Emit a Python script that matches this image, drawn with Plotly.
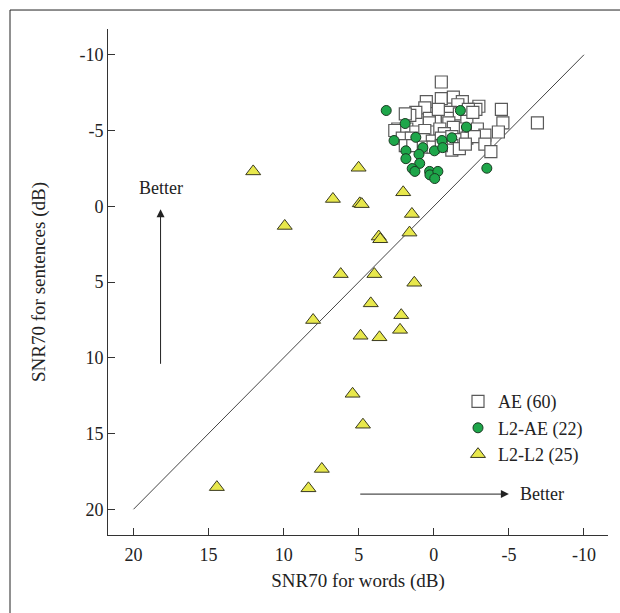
import plotly.graph_objects as go

# AE (60) - open squares
ae_x = [-0.5, -0.5, -1.3, 0.5, -1.9, -1.6, -3.0, -2.8, -4.5, 0.6,
        1.2, 1.6, -0.9, -1.1, -1.7, -2.3, -0.9, 0.3, 1.9, -4.6,
        -6.9, -1.0, 0.3, -2.2, 2.4, 2.6, 1.8, 1.2, 0.2, -0.4,
        -1.7, -2.3, -2.9, -1.3, 0.6, -0.7, -3.4, -4.3, 2.1, 1.5,
        0.7, 0.1, -0.5, -1.2, -1.7, -2.2, -2.7, -3.4, 1.9, 1.4,
        0.7, 0.05, -1.2, -1.2, -1.7, -0.5, -2.1, -3.8, -2.6, -0.3]
ae_y = [-8.2, -7.1, -7.2, -6.9, -6.9, -6.7, -6.6, -6.4, -6.4, -6.5,
        -6.2, -6.0, -6.0, -6.2, -6.1, -6.4, -5.8, -5.8, -6.1, -5.5,
        -5.5, -5.5, -5.5, -5.6, -5.1, -5.0, -5.1, -4.9, -4.9, -5.1,
        -5.1, -4.9, -5.1, -5.2, -5.0, -4.8, -4.7, -4.9, -4.5, -4.5,
        -4.4, -4.3, -4.5, -4.6, -4.4, -4.5, -4.6, -4.1, -4.0, -4.0,
        -3.9, -3.9, -4.0, -3.7, -3.8, -4.0, -4.1, -3.6, -6.2, -6.4]

# L2-AE (22) - green circles
l2ae_x = [3.17, 1.91, -1.77, -2.17, 2.65, 1.20, -0.54, -1.20, 1.86, 0.73, -0.04,
          -0.59, 0.99, 1.86, 0.94, 1.44, 1.26, 0.28, 0.26, -0.27, -0.06, -3.53]
l2ae_y = [-6.32, -5.46, -6.32, -5.23, -4.34, -4.55, -4.34, -4.52, -3.66, -3.87, -3.66,
          -3.87, -3.43, -3.14, -2.83, -2.49, -2.30, -2.30, -2.07, -2.30, -1.83, -2.51]

# L2-L2 (25) - yellow triangles
l2l2_x = [12.03, 5.01, 6.72, 4.93, 4.80, 2.04, 1.46, 9.93, 3.67, 3.57, 1.62, 6.20, 3.96,
          1.30, 4.20, 8.04, 2.17, 4.88, 3.62, 2.25, 5.41, 4.72, 7.46, 14.45, 8.35]
l2l2_y = [-2.30, -2.54, -0.48, -0.19, -0.14, -0.92, 0.51, 1.30, 2.00, 2.18, 1.74, 4.48, 4.48,
          5.05, 6.41, 7.51, 7.19, 8.55, 8.65, 8.16, 12.38, 14.42, 17.34, 18.54, 18.62]

# reference diagonal
diag_x = [20, -10]
diag_y = [20, -10]

tick_vals = [20, 15, 10, 5, 0, -5, -10]
tick_text = ["20", "15", "10", "5", "0", "-5", "-10"]

FONT = "Liberation Serif"
AX = "#333333"
TXT = "#222222"

fig = go.Figure()
fig.add_trace(go.Scatter(x=diag_x, y=diag_y, mode="lines",
                         line=dict(color="#444444", width=1), showlegend=False,
                         hoverinfo="skip"))
fig.add_trace(go.Scatter(x=ae_x, y=ae_y, mode="markers", name="AE (60)",
                         marker=dict(symbol="square", size=12, color="white",
                                     line=dict(color="#5a5a5a", width=1.2))))
fig.add_trace(go.Scatter(x=l2ae_x, y=l2ae_y, mode="markers", name="L2-AE (22)",
                         marker=dict(symbol="circle", size=10, color="#1ea64a",
                                     line=dict(color="#1a3a22", width=1))))
fig.add_trace(go.Scatter(x=l2l2_x, y=l2l2_y, mode="markers", name="L2-L2 (25)",
                         marker=dict(symbol="triangle-up", size=13, color="#e8e84c",
                                     line=dict(color="#3a3a20", width=1))))

axis_common = dict(
    showline=True, linecolor=AX, linewidth=1, mirror=False,
    ticks="inside", ticklen=7, tickcolor=AX, tickwidth=1,
    showgrid=False, zeroline=False, automargin=False,
    tickmode="array", tickvals=tick_vals, ticktext=tick_text,
    tickfont=dict(family=FONT, size=18, color=TXT),
)

fig.update_layout(
    width=620, height=613,
    margin=dict(l=108, r=12, t=29, b=78),
    paper_bgcolor="white", plot_bgcolor="white",
    font=dict(family=FONT, size=18, color=TXT),
    xaxis=dict(range=[21.7, -11.6], autorange=False,
               title=dict(text="SNR70 for words (dB)", standoff=10,
                          font=dict(family=FONT, size=19, color=TXT)),
               ticklabelstandoff=3, **axis_common),
    yaxis=dict(range=[21.7, -11.7], autorange=False,
               title=dict(text="SNR70 for sentences (dB)", standoff=28,
                          font=dict(family=FONT, size=19, color=TXT)),
               **axis_common),
    legend=dict(x=0.70, y=0.30, xanchor="left", yanchor="top",
                bgcolor="rgba(0,0,0,0)", itemwidth=30,
                font=dict(family=FONT, size=18, color=TXT),
                tracegroupgap=0),
    showlegend=True,
)

# arrows with "Better"
fig.add_annotation(x=18.2, y=0.2, ax=18.2, ay=10.5, xref="x", yref="y",
                   axref="x", ayref="y", text="", showarrow=True,
                   arrowhead=2, arrowsize=1.6, arrowwidth=1, arrowcolor=TXT)
fig.add_annotation(x=18.2, y=-1.2, xref="x", yref="y", text="Better",
                   showarrow=False, font=dict(family=FONT, size=18, color=TXT))
fig.add_annotation(x=-5.0, y=19.0, ax=5.0, ay=19.0, xref="x", yref="y",
                   axref="x", ayref="y", text="", showarrow=True,
                   arrowhead=2, arrowsize=1.6, arrowwidth=1, arrowcolor=TXT)
fig.add_annotation(x=-7.2, y=19.0, xref="x", yref="y", text="Better",
                   showarrow=False, font=dict(family=FONT, size=18, color=TXT))

# outer frame: only left and top edges are visible in the reference
fig.add_shape(type="line", xref="paper", yref="paper",
              x0=-0.196, x1=-0.196, y0=-0.3, y1=1.0375,
              line=dict(color=TXT, width=1))
fig.add_shape(type="line", xref="paper", yref="paper",
              x0=-0.196, x1=1.2, y0=1.0375, y1=1.0375,
              line=dict(color=TXT, width=1))

fig.write_html("out.html",
               config={"displayModeBar": False},
               post_script="document.body.style.margin='0';document.body.style.overflow='hidden';")
